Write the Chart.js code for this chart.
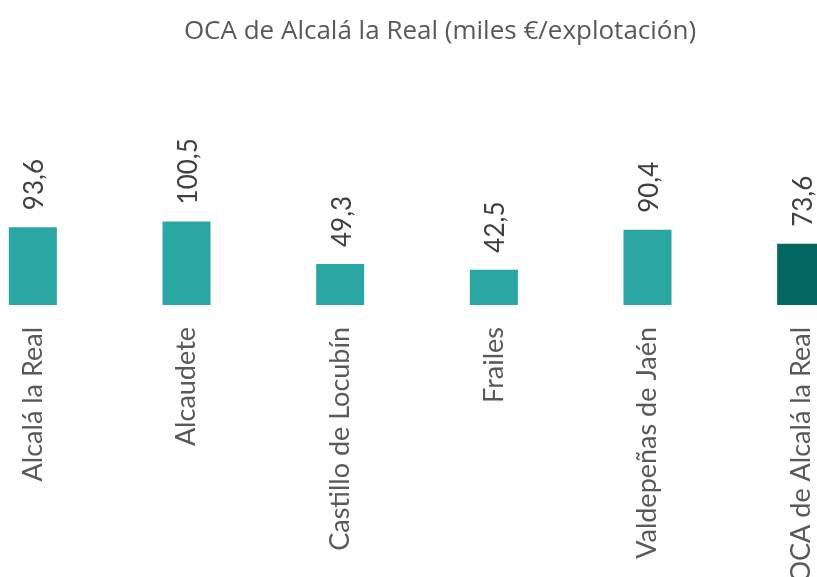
<!DOCTYPE html>
<html>
<head>
<meta charset="utf-8">
<script src="https://cdn.jsdelivr.net/npm/chart.js@4.4.0/dist/chart.umd.min.js"></script>
<style>
  html, body { margin: 0; padding: 0; background: #fff; overflow: hidden; }
  #wrap { position: absolute; left: -44px; top: 0; width: 968px; height: 577px; }
</style>
</head>
<body>
<div id="wrap"><canvas id="chart"></canvas></div>
<script>
const categories = ['Alcalá la Real', 'Alcaudete', 'Castillo de Locubín', 'Frailes', 'Valdepeñas de Jaén', 'OCA de Alcalá la Real'];
const values = [93.6, 100.5, 49.3, 42.5, 90.4, 73.6];
const valueLabels = ['93,6', '100,5', '49,3', '42,5', '90,4', '73,6'];
const barColors = ['#2aa7a2', '#2aa7a2', '#2aa7a2', '#2aa7a2', '#2aa7a2', '#026661'];

// labels rotated above each bar
const barLabels = {
  id: 'barLabels',
  afterDatasetsDraw(chart) {
    const ctx = chart.ctx;
    const meta = chart.getDatasetMeta(0);
    ctx.save();
    ctx.font = '26px Lato';
    ctx.fillStyle = '#404040';
    ctx.textAlign = 'left';
    ctx.textBaseline = 'middle';
    meta.data.forEach(function(bar, i) {
      ctx.save();
      ctx.translate(bar.x + 2, bar.y - 17);
      ctx.rotate(-Math.PI / 2);
      ctx.fillText(valueLabels[i], 0, 0);
      ctx.restore();
    });
    ctx.restore();
  }
};

const chart = new Chart(document.getElementById('chart'), {
  type: 'bar',
  data: {
    labels: categories,
    datasets: [{
      data: values,
      backgroundColor: barColors,
      categoryPercentage: 1,
      barPercentage: 0.3125
    }]
  },
  options: {
    responsive: true,
    maintainAspectRatio: false,
    animation: false,
    plugins: {
      legend: { display: false },
      tooltip: { enabled: false },
      title: {
        display: true,
        text: 'OCA de Alcalá la Real (miles €/explotación)',
        color: '#595959',
        font: { family: 'Open Sans', size: 26, weight: 'normal' },
        padding: { top: 16, bottom: 10 }
      }
    },
    scales: {
      x: {
        grid: { display: false },
        border: { display: false },
        ticks: {
          color: '#595959',
          font: { family: 'Lato', size: 27 },
          minRotation: 90,
          maxRotation: 90,
          padding: 14
        },
        afterFit(scale) { scale.height = 272; }
      },
      y: {
        position: 'right',
        min: 0,
        max: 298,
        grid: { display: false },
        border: { display: false },
        ticks: { display: false },
        afterFit(scale) { scale.width = 46; }
      }
    }
  },
  plugins: [barLabels]
});
</script>
</body>
</html>
